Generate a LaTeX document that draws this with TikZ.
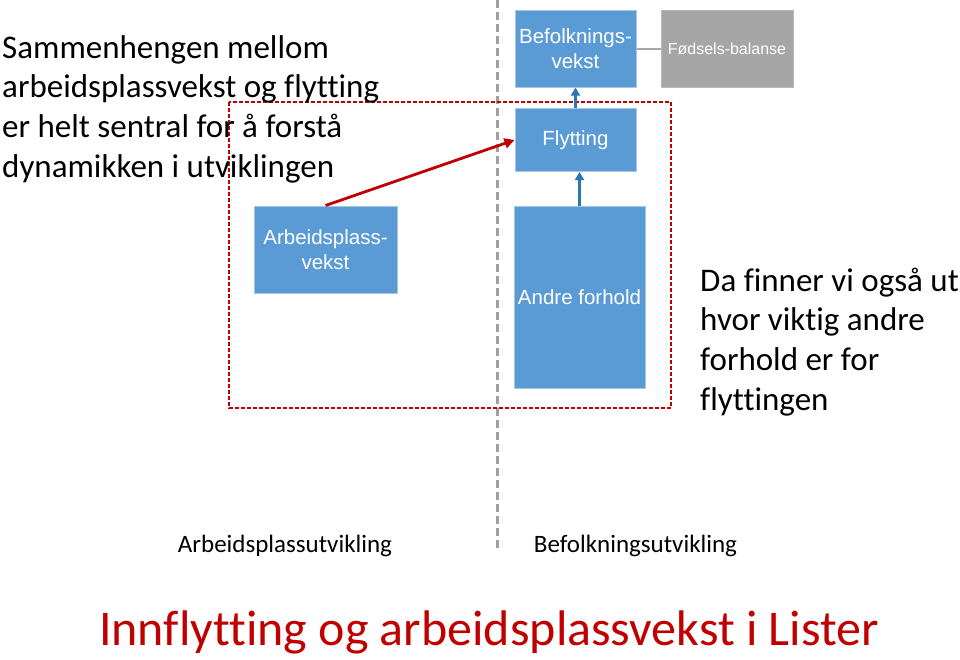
\documentclass[tikz,border=0pt]{standalone}
\usepackage{fontspec}
\setmainfont{Carlito}[Ligatures=CommonOff]
\newfontfamily\arialf{Liberation Sans}
\usetikzlibrary{arrows.meta}
\definecolor{boxblue}{HTML}{5B9BD5}
\definecolor{boxline}{HTML}{A9C5E5}
\definecolor{arrblue}{HTML}{2E75B6}
\definecolor{darkred}{HTML}{C00000}
\definecolor{grayfill}{HTML}{A6A6A6}
\definecolor{divgray}{HTML}{A0A0A0}
\tikzset{
  bluebox/.style={draw=boxline, fill=boxblue, line width=1pt, text=white, align=center, inner sep=0pt,
    font=\arialf\fontsize{20.5}{25}\selectfont},
  graybox/.style={draw=grayfill!80!white, fill=grayfill, line width=1pt, text=white, align=center, inner sep=0pt,
    font=\arialf\fontsize{16}{20}\selectfont},
  bluearrow/.style={draw=arrblue, line width=2.5pt, -{Triangle[length=8pt,width=9pt]}},
  redarrow/.style={draw=darkred, line width=2.8pt, -{Triangle[length=10pt,width=10pt]}},
  bigtext/.style={anchor=base west, inner sep=0pt, align=left, font=\fontsize{33}{39.6}\selectfont},
  labeltext/.style={anchor=base, inner sep=0pt, font=\fontsize{25}{30}\selectfont}
}
\begin{document}
\begin{tikzpicture}[x=1pt,y=-1pt]
\useasboundingbox (0,0) rectangle (960,659);
% divider
\coordinate (dtop) at (497,0);
\coordinate (dbot) at (497,548);
\draw[divgray, line width=3pt, dash pattern=on 8pt off 4pt] (dtop) -- (dbot);
% red dashed rectangle
\draw[darkred, line width=1.2pt, dash pattern=on 4pt off 2pt] (229,102) rectangle (671,408);
% boxes
\node[bluebox, minimum width=121pt, minimum height=77pt] (bef) at (575.5,48.5) {Befolknings-\\vekst};
\node[graybox, minimum width=132pt, minimum height=77pt] (fod) at (727,48.5) {Fødsels-balanse};
\node[bluebox, minimum width=121pt, minimum height=63pt] (fly) at (575.5,140) {Flytting};
\node[bluebox, minimum width=131pt, minimum height=182pt] (andre) at (579.5,297) {Andre forhold};
\node[bluebox, minimum width=143pt, minimum height=87pt] (arb) at (325.5,249.5) {Arbeidsplass-\\vekst};
% connectors
\draw[grayfill, line width=2pt] (bef.east) -- (fod.west);
\draw[bluearrow] (fly.north) -- (bef.south);
\draw[bluearrow] (andre.north) -- (andre.north |- fly.south);
\draw[redarrow] (arb.north) -- (fly.west);
% texts (base = last line)
\node[bigtext] (t1) at (2,177) {Sammenhengen mellom\\arbeidsplassvekst og flytting\\er helt sentral for å forstå\\dynamikken i utviklingen};
\node[bigtext] (t2) at (700,410) {Da finner vi også ut\\hvor viktig andre\\forhold er for\\flyttingen};
\node[labeltext] (l1) at (285,552) {Arbeidsplassutvikling};
\node[labeltext] (l2) at (635.5,552) {Befolkningsutvikling};
\node[anchor=base, inner sep=0pt, text=darkred, font=\fontsize{50}{60}\selectfont] (title) at (489,645) {Innflytting og arbeidsplassvekst i Lister};
\end{tikzpicture}
\end{document}
